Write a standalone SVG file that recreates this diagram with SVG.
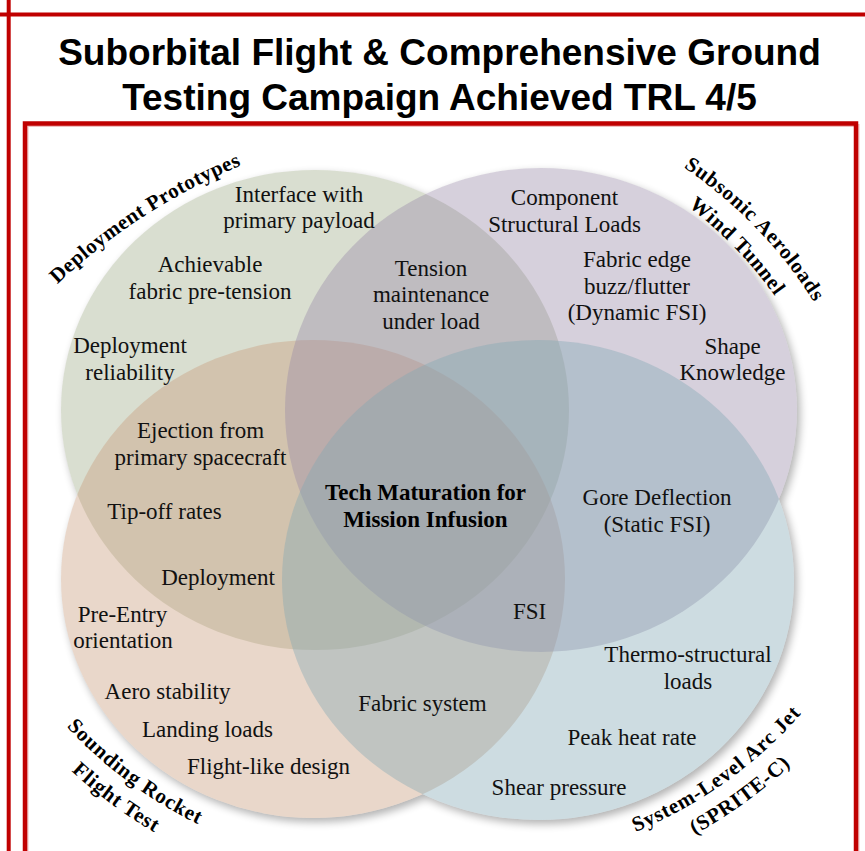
<svg xmlns="http://www.w3.org/2000/svg" width="865" height="851" viewBox="0 0 865 851">
<defs>
<style>
.t{font-family:"Liberation Serif","Times New Roman",serif;font-size:23px;fill:#111;text-anchor:middle}
.b{font-weight:bold;fill:#000}
.lab{font-family:"Liberation Serif","Times New Roman",serif;font-size:21px;letter-spacing:0.8px;font-weight:bold;fill:#000;text-anchor:middle}
.title{font-family:"Liberation Sans",Arial,sans-serif;font-size:37px;font-weight:bold;fill:#000;text-anchor:middle}
.red{stroke:#c00000;fill:none}
.c{fill-opacity:0.4}
</style>
<filter id="sh" x="-10%" y="-10%" width="130%" height="130%"><feGaussianBlur stdDeviation="4"/></filter>
<ellipse id="eG" cx="315" cy="410" rx="254" ry="240"/>
<ellipse id="eP" cx="541" cy="410" rx="256" ry="242"/>
<ellipse id="eO" cx="313" cy="579" rx="252" ry="239"/>
<ellipse id="eB" cx="538" cy="580" rx="256" ry="240"/>
<path id="pDP" d="M27.2,314.9 A600,600 0 0 1 282.2,150.3"/>
<path id="pSA1" d="M643.6,143.4 A450,450 0 0 1 836.8,343.4"/>
<path id="pSA2" d="M642.8,176.1 A421,421 0 0 1 804,343"/>
<path id="pSR1" d="M36.4,690.7 A450,450 0 0 0 241.9,842.8"/>
<path id="pSR2" d="M29.6,727.2 A478,478 0 0 0 209,859.9"/>
<path id="pSL1" d="M588.1,848.4 A450,450 0 0 0 832.7,673.9"/>
<path id="pSL2" d="M643.2,859 A478,478 0 0 0 830.3,723.1"/>
</defs>
<rect width="865" height="851" fill="#fff"/>
<g id="frame">
<line class="red" x1="0" y1="14.5" x2="865" y2="14.5" stroke-width="4"/>
<line class="red" x1="8.7" y1="0" x2="8.7" y2="851" stroke-width="4"/>
<rect class="red" x="27" y="125.5" width="831" height="800" stroke-width="3" opacity="0.25"/>
<rect class="red" x="25" y="123.5" width="831" height="800" stroke-width="4.5"/>
</g>
<g id="title">
<text class="title" x="439.5" y="65">Suborbital Flight &amp; Comprehensive Ground</text>
<text class="title" x="439.5" y="110">Testing Campaign Achieved TRL 4/5</text>
</g>
<g id="shadows" opacity="0.3" transform="translate(3,4)" filter="url(#sh)" fill="#000">
<use href="#eG"/><use href="#eP"/><use href="#eO"/><use href="#eB"/>
</g>
<g id="base" fill="#fff">
<use href="#eG"/><use href="#eP"/><use href="#eO"/><use href="#eB"/>
</g>
<g id="circle-deployment-prototypes">
<use href="#eG" class="c" fill="#a0ad8a"/>
<text class="lab" style="letter-spacing:0.5px"><textPath href="#pDP" startOffset="50%">Deployment Prototypes</textPath></text>
</g>
<g id="circle-sounding-rocket">
<use href="#eO" class="c" fill="#c89b7a"/>
<text class="lab"><textPath href="#pSR1" startOffset="50%">Sounding Rocket</textPath></text>
<text class="lab"><textPath href="#pSR2" startOffset="50%">Flight Test</textPath></text>
</g>
<g id="circle-subsonic-wind-tunnel">
<use href="#eP" class="c" fill="#988aa8"/>
<text class="lab"><textPath href="#pSA1" startOffset="50%">Subsonic Aeroloads</textPath></text>
<text class="lab"><textPath href="#pSA2" startOffset="50%">Wind Tunnel</textPath></text>
</g>
<g id="circle-arc-jet">
<use href="#eB" class="c" fill="#82a8b4"/>
<text class="lab"><textPath href="#pSL1" startOffset="50%">System-Level Arc Jet</textPath></text>
<text class="lab"><textPath href="#pSL2" startOffset="50%">(SPRITE-C)</textPath></text>
</g>
<g id="items">
<g id="n-interface"><text class="t" x="299" y="201.5">Interface with</text><text class="t" x="299" y="228">primary payload</text></g>
<g id="n-pretension"><text class="t" x="210" y="272">Achievable</text><text class="t" x="210" y="298.5">fabric pre-tension</text></g>
<g id="n-reliability"><text class="t" x="130" y="353">Deployment</text><text class="t" x="130" y="380">reliability</text></g>
<g id="n-ejection"><text class="t" x="200.5" y="438">Ejection from</text><text class="t" x="200.5" y="465">primary spacecraft</text></g>
<g id="n-tension"><text class="t" x="431" y="275.5">Tension</text><text class="t" x="431" y="302">maintenance</text><text class="t" x="431" y="328.5">under load</text></g>
<g id="n-component"><text class="t" x="564.5" y="205">Component</text><text class="t" x="564.5" y="231.5">Structural Loads</text></g>
<g id="n-buzz"><text class="t" x="637" y="267">Fabric edge</text><text class="t" x="637" y="293.5">buzz/flutter</text><text class="t" x="637" y="320">(Dynamic FSI)</text></g>
<g id="n-shape"><text class="t" x="732.5" y="353.5">Shape</text><text class="t" x="732.5" y="380">Knowledge</text></g>
<g id="n-center"><text class="t b" x="425.5" y="500">Tech Maturation for</text><text class="t b" x="425.5" y="526.5">Mission Infusion</text></g>
<g id="n-gore"><text class="t" x="657" y="505">Gore Deflection</text><text class="t" x="657" y="531.5">(Static FSI)</text></g>
<g id="n-tipoff"><text class="t" x="164.5" y="518.5">Tip-off rates</text></g>
<g id="n-deployment"><text class="t" x="218" y="585">Deployment</text></g>
<g id="n-preentry"><text class="t" x="122.5" y="621.5">Pre-Entry</text><text class="t" x="123" y="648">orientation</text></g>
<g id="n-aero"><text class="t" x="167.5" y="698.5">Aero stability</text></g>
<g id="n-landing"><text class="t" x="207.5" y="736.5">Landing loads</text></g>
<g id="n-flightlike"><text class="t" x="268.5" y="773.5">Flight-like design</text></g>
<g id="n-fabric"><text class="t" x="422.5" y="710.5">Fabric system</text></g>
<g id="n-fsi"><text class="t" x="529.5" y="618.5">FSI</text></g>
<g id="n-thermo"><text class="t" x="688" y="662">Thermo-structural</text><text class="t" x="688" y="688.5">loads</text></g>
<g id="n-peak"><text class="t" x="632" y="745">Peak heat rate</text></g>
<g id="n-shear"><text class="t" x="559" y="795">Shear pressure</text></g>
</g>
<g id="connectors"/>
</svg>
